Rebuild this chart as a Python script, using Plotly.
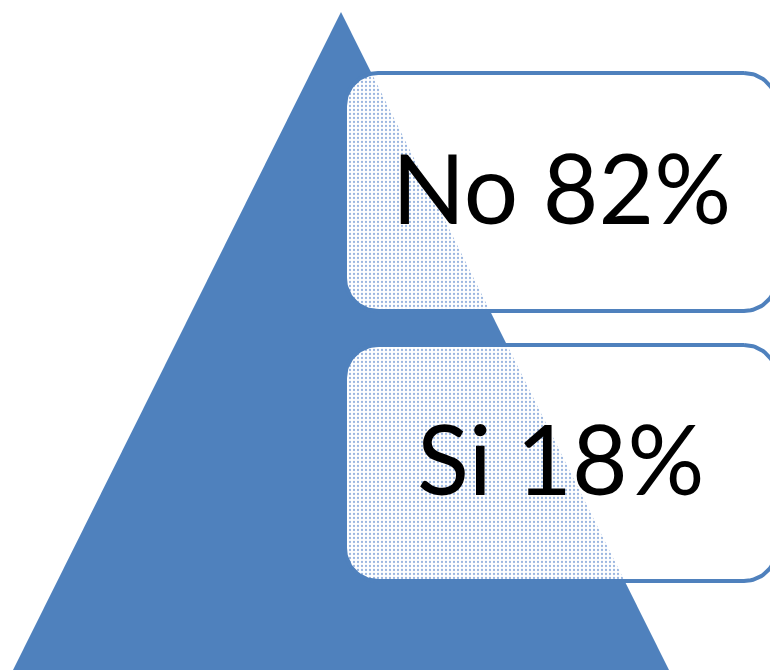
import numpy as np
import plotly.graph_objects as go

# Survey answer shares shown on the pyramid list
categories = ["No", "Si"]
values = [82, 18]

BLUE = "#4f81bd"
W, H = 770, 670

# Pyramid outline (pixel space, y downward)
apex = (341, 12)
base_left = (13, 670)
base_right = (669, 670)

# Text boxes stacked next to the pyramid
boxes = [(345, 777, 73, 311), (345, 777, 345, 581)]
RADIUS = 33


def rounded_rect(x0, x1, y0, y1, r, n=24):
    pts = []
    corners = [
        (x1 - r, y0 + r, -90, 0),
        (x1 - r, y1 - r, 0, 90),
        (x0 + r, y1 - r, 90, 180),
        (x0 + r, y0 + r, 180, 270),
    ]
    for cx, cy, a0, a1 in corners:
        for a in np.linspace(np.radians(a0), np.radians(a1), n):
            pts.append((cx + r * np.cos(a), cy + r * np.sin(a)))
    pts.append(pts[0])
    return pts


def right_edge_x(y):
    t = (y - apex[1]) / (base_right[1] - apex[1])
    return apex[0] + t * (base_right[0] - apex[0])


def clip_inside_pyramid(poly):
    # keep the part of the polygon left of the pyramid's right edge
    def inside(p):
        return p[0] <= right_edge_x(p[1])

    def cross(p, q):
        fp = p[0] - right_edge_x(p[1])
        fq = q[0] - right_edge_x(q[1])
        t = fp / (fp - fq)
        return (p[0] + t * (q[0] - p[0]), p[1] + t * (q[1] - p[1]))

    out = []
    pts = poly[:-1]
    for i in range(len(pts)):
        cur, nxt = pts[i], pts[(i + 1) % len(pts)]
        if inside(cur):
            out.append(cur)
            if not inside(nxt):
                out.append(cross(cur, nxt))
        elif inside(nxt):
            out.append(cross(cur, nxt))
    if out:
        out.append(out[0])
    return out


fig = go.Figure()

fig.add_shape(
    type="path",
    path=f"M {apex[0]} {apex[1]} L {base_right[0]} {base_right[1]} "
         f"L {base_left[0]} {base_left[1]} Z",
    fillcolor=BLUE, line=dict(width=0), layer="below",
)

for (x0, x1, y0, y1) in boxes:
    outline = rounded_rect(x0, x1, y0, y1, RADIUS)
    xs, ys = zip(*outline)
    fig.add_trace(go.Scatter(
        x=xs, y=ys, mode="lines", fill="toself", fillcolor="white",
        line=dict(width=0), hoverinfo="skip", showlegend=False,
    ))
    part = clip_inside_pyramid(outline)
    px, py = zip(*part)
    fig.add_trace(go.Scatter(
        x=px, y=py, mode="lines", fill="toself",
        fillcolor="white", line=dict(width=0),
        fillpattern=dict(shape=".", fgcolor="#9ab6e0", bgcolor="white",
                         size=4, solidity=0.25, fillmode="replace"),
        hoverinfo="skip", showlegend=False,
    ))
    fig.add_trace(go.Scatter(
        x=xs, y=ys, mode="lines", line=dict(color=BLUE, width=4),
        hoverinfo="skip", showlegend=False,
    ))

for (x0, x1, y0, y1), cat, val in zip(boxes, categories, values):
    fig.add_annotation(
        x=(x0 + x1) / 2, y=(y0 + y1) / 2 - 6, xref="x", yref="y",
        text=f"{cat} {val}%", showarrow=False,
        font=dict(family="Lato, Carlito, Calibri, sans-serif", size=96, color="black"),
        xanchor="center", yanchor="middle",
    )

fig.update_layout(
    width=W, height=H,
    margin=dict(l=0, r=0, t=0, b=0),
    paper_bgcolor="white", plot_bgcolor="white",
    xaxis=dict(range=[0, W], visible=False, fixedrange=True),
    yaxis=dict(range=[H, 0], visible=False, fixedrange=True),
)

fig.write_html("out.html")
